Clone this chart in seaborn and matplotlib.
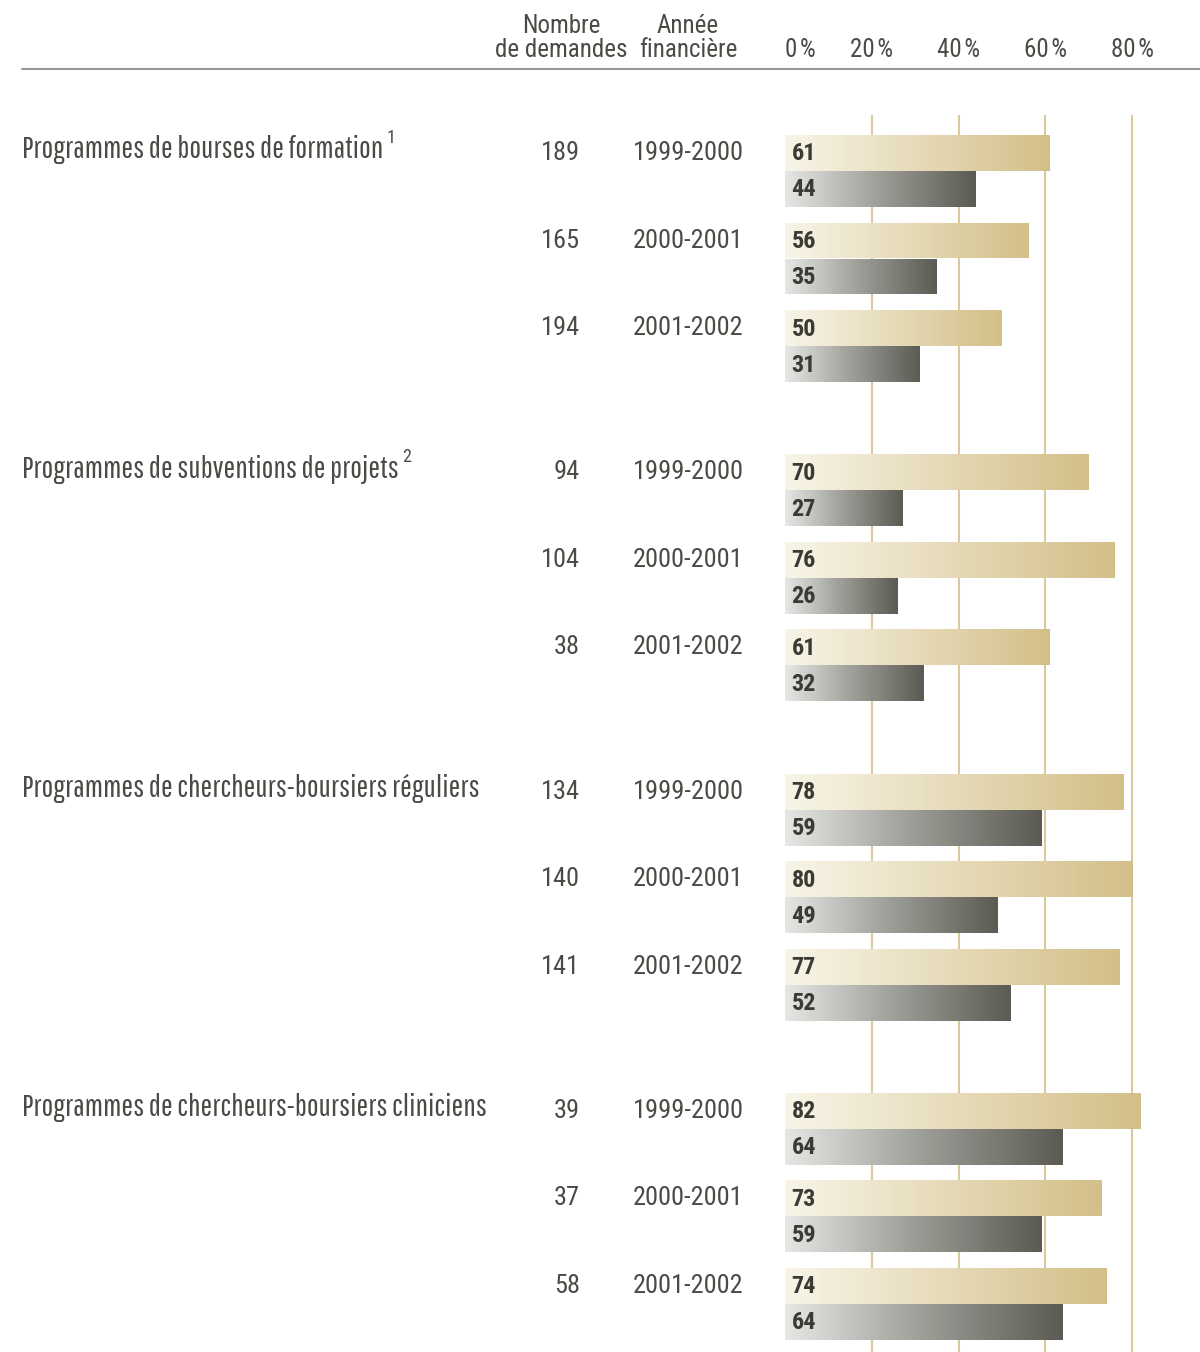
import numpy as np
import pandas as pd
import seaborn as sns
import matplotlib.pyplot as plt
from matplotlib.colors import LinearSegmentedColormap

# data
programs = [
    "Programmes de bourses de formation",
    "Programmes de subventions de projets",
    "Programmes de chercheurs-boursiers réguliers",
    "Programmes de chercheurs-boursiers cliniciens",
]
footnotes = ["1", "2", "", ""]
years = ["1999-2000", "2000-2001", "2001-2002"]
demandes = [
    [189, 165, 194],
    [94, 104, 38],
    [134, 140, 141],
    [39, 37, 58],
]
gold_values = [
    [61, 56, 50],
    [70, 76, 61],
    [78, 80, 77],
    [82, 73, 74],
]
grey_values = [
    [44, 35, 31],
    [27, 26, 32],
    [59, 49, 52],
    [64, 59, 64],
]
xticks = [0, 20, 40, 60, 80]

W, H = 1200, 1352
PX_PER_PCT = 4.34
X0 = 785
TOP = 69

TEXT = "#4b4b46"
LABEL = "#3b3b36"
GOLD_LINE = "#d9c99c"

NARROW = ["Roboto Condensed", "Archivo Narrow", "Asap Condensed", "DejaVu Sans"]
TITLE_FONT = ["Pathway Gothic One", "Oswald", "Roboto Condensed", "Archivo Narrow", "DejaVu Sans"]

sns.set_theme(style="white")
plt.rcParams["font.family"] = NARROW

# layout in pixel rows (top = 0)
rows = []
for g, prog in enumerate(programs):
    for p, yr in enumerate(years):
        yc = 153 + g * 319.3 + p * 87.5
        rows.append(dict(program=prog, year=yr, serie="gold", value=gold_values[g][p], ypos=yc))
        rows.append(dict(program=prog, year=yr, serie="grey", value=grey_values[g][p], ypos=yc + 36))
df = pd.DataFrame(rows)
gold_pos = df.loc[df.serie == "gold", "ypos"].to_numpy()

fig = plt.figure(figsize=(W / 100, H / 100), dpi=100)
ax = fig.add_axes([X0 / W, 0, (W - X0) / W, (H - TOP) / H])

palette = {"gold": "#d4c08a", "grey": "#5c5c55"}
sns.barplot(data=df, x="value", y="ypos", hue="serie", palette=palette,
            orient="y", native_scale=True, width=1, dodge=False, saturation=1,
            errorbar=None, legend=False, linewidth=0, ax=ax, zorder=2)

xmax = (W - X0) / PX_PER_PCT

# gradient fill for each bar
cmaps = {
    "gold": LinearSegmentedColormap.from_list("g", ["#f8f5e8", "#e6dab8", "#d3bf88"]),
    "grey": LinearSegmentedColormap.from_list("k", ["#e6e6e4", "#9d9d97", "#5b5b54"]),
}
grad = np.linspace(0, 1, 256).reshape(1, -1)
for bar in list(ax.patches):
    x0, y0 = bar.get_x(), bar.get_y()
    w, h = bar.get_width(), bar.get_height()
    yc = y0 + h / 2
    key = "gold" if np.min(np.abs(gold_pos - yc)) < 1 else "grey"
    im = ax.imshow(grad, extent=[x0, x0 + w, y0 + h, y0], aspect="auto",
                   cmap=cmaps[key], zorder=3)
    im.set_clip_path(bar)
    bar.set_facecolor("none")
ax.set_xlim(0, xmax)
ax.set_ylim(H, TOP)

# value labels inside bars
for _, r in df.iterrows():
    ax.text(1.5, r.ypos + 1, str(r.value), ha="left", va="center",
            fontsize=17.5, fontweight="bold", color=LABEL, zorder=4)

# vertical reference lines
ax.vlines(xticks[1:], H, 115, color=GOLD_LINE, lw=1.5, zorder=1)

# top tick labels
ax.xaxis.tick_top()
ax.set_xticks(xticks)
ax.set_xticklabels([f"{t}\u200a%" for t in xticks], fontsize=18, color=TEXT)
ax.tick_params(axis="x", length=0, pad=5)
ax.get_xticklabels()[0].set_horizontalalignment("left")
ax.set_yticks([])
ax.set_ylabel("")
ax.set_xlabel("")
for s in ax.spines.values():
    s.set_visible(False)
ax.set_facecolor("none")

def fy(y):
    return 1 - y / H

# header
fig.text(561 / W, fy(38), "Nombre\nde demandes", ha="center", va="center",
         fontsize=18, color=TEXT, linespacing=1.0)
fig.text(688 / W, fy(38), "Année\nfinancière", ha="center", va="center",
         fontsize=18, color=TEXT, linespacing=1.0)
fig.add_artist(plt.Line2D([22 / W, 1], [fy(69), fy(69)], color="#9a9a96", lw=1.5))

# program titles, counts and years
renderer = fig.canvas.get_renderer()
for g, prog in enumerate(programs):
    yc = 153 + g * 319.3
    t = fig.text(22 / W, fy(yc - 3), prog, ha="left", va="center",
                 fontsize=22.5, color=TEXT, family=TITLE_FONT)
    if footnotes[g]:
        bb = t.get_window_extent(renderer)
        fig.text(bb.x1 / W + 3 / W, fy(yc - 15), footnotes[g], ha="left",
                 va="center", fontsize=13, color=TEXT)
    for p, yr in enumerate(years):
        y = yc + p * 87.5
        fig.text(580 / W, fy(y), str(demandes[g][p]), ha="right", va="center",
                 fontsize=19, color=TEXT)
        fig.text(688 / W, fy(y), yr, ha="center", va="center",
                 fontsize=19, color=TEXT)

fig.savefig("out.png", dpi=100, facecolor="white")
